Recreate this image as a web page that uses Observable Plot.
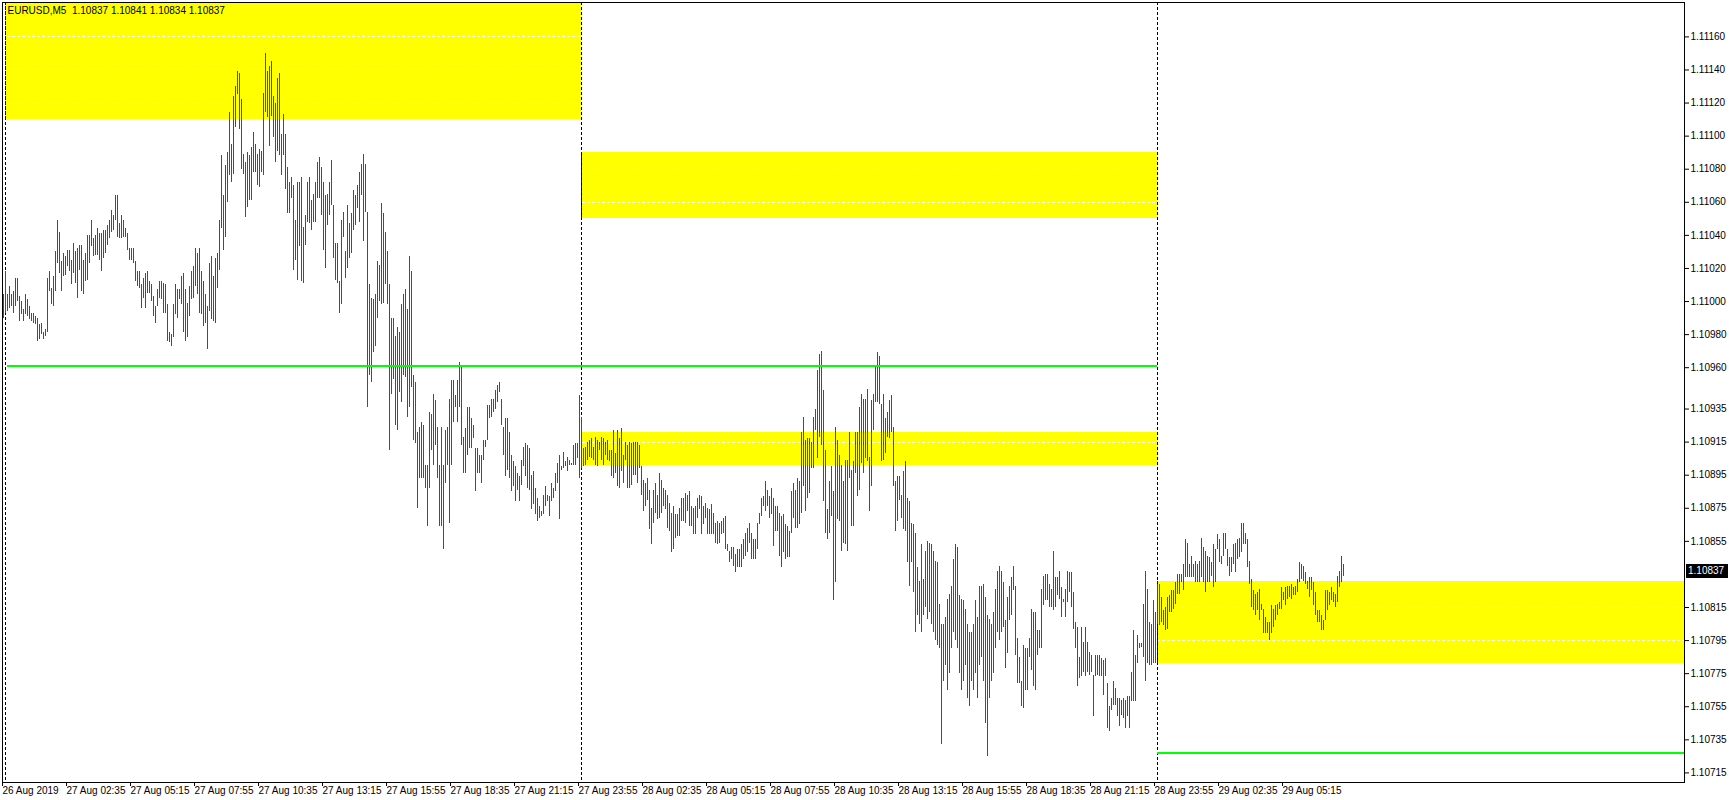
<!DOCTYPE html>
<html><head><meta charset="utf-8">
<script src="https://cdn.jsdelivr.net/npm/d3@7"></script>
<script src="https://cdn.jsdelivr.net/npm/@observablehq/plot@0.6"></script>
<style>body{margin:0;background:#fff;} #chart{width:1729px;height:800px;}</style>
</head><body><div id="chart"></div>
<script>
const symbolTitle = "EURUSD,M5  1.10837 1.10841 1.10834 1.10837";
const lastPrice = 1.10837;

// M5 bars, index 0 = 26 Aug 2019 23:55
const high = [
1.11004,1.11018,1.11004,1.11009,1.11004,1.11006,1.11014,1.11014,1.11003,1.11000,
1.10995,1.11004,1.11001,1.10997,1.10993,1.10993,1.10991,1.10990,1.10986,1.10987,
1.10981,1.10983,1.11014,1.11018,1.11008,1.11015,1.11030,1.11049,1.11042,1.11024,
1.11029,1.11027,1.11031,1.11031,1.11025,1.11035,1.11030,1.11032,1.11034,1.11034,
1.11025,1.11029,1.11040,1.11040,1.11049,1.11038,1.11040,1.11044,1.11041,1.11041,
1.11043,1.11043,1.11046,1.11049,1.11055,1.11052,1.11064,1.11064,1.11047,1.11052,
1.11049,1.11044,1.11041,1.11032,1.11032,1.11032,1.11024,1.11018,1.11018,1.11010,
1.11014,1.11017,1.11018,1.11012,1.11010,1.11003,1.10997,1.11007,1.11012,1.11012,
1.11011,1.11010,1.10998,1.10981,1.10980,1.10998,1.11010,1.11007,1.11007,1.11015,
1.11017,1.11007,1.10999,1.11009,1.11018,1.11021,1.11032,1.11029,1.11032,1.11018,
1.11012,1.11004,1.10997,1.11023,1.11027,1.11015,1.11026,1.11029,1.11049,1.11088,
1.11064,1.11082,1.11090,1.11114,1.11095,1.11124,1.11130,1.11139,1.11138,1.11122,
1.11089,1.11084,1.11090,1.11088,1.11093,1.11102,1.11095,1.11089,1.11092,1.11091,
1.11126,1.11150,1.11139,1.11142,1.11145,1.11124,1.11120,1.11135,1.11138,1.11101,
1.11113,1.11101,1.11081,1.11072,1.11075,1.11070,1.11049,1.11072,1.11072,1.11075,
1.11045,1.11052,1.11072,1.11075,1.11061,1.11065,1.11072,1.11084,1.11087,1.11081,
1.11072,1.11064,1.11065,1.11072,1.11085,1.11058,1.11035,1.11035,1.11012,1.11049,
1.11054,1.11030,1.11058,1.11047,1.11053,1.11067,1.11064,1.11070,1.11078,1.11083,
1.11089,1.11083,1.11054,1.11010,1.11002,1.11001,1.11004,1.11024,1.11022,1.11059,
1.11053,1.11042,1.11030,1.11010,1.10990,1.10990,1.10979,1.10984,1.10981,1.10998,
1.11004,1.11007,1.10995,1.11027,1.11018,1.10955,1.10951,1.10921,1.10924,1.10927,
1.10925,1.10901,1.10901,1.10933,1.10932,1.10944,1.10940,1.10924,1.10901,1.10924,
1.10901,1.10922,1.10924,1.10941,1.10952,1.10952,1.10943,1.10952,1.10963,1.10960,
1.10918,1.10923,1.10936,1.10936,1.10929,1.10925,1.10911,1.10911,1.10907,1.10907,
1.10916,1.10916,1.10937,1.10937,1.10941,1.10941,1.10946,1.10949,1.10951,1.10941,
1.10924,1.10929,1.10929,1.10921,1.10907,1.10903,1.10900,1.10896,1.10894,1.10904,
1.10912,1.10914,1.10913,1.10911,1.10895,1.10897,1.10887,1.10881,1.10876,1.10873,
1.10883,1.10888,1.10883,1.10882,1.10890,1.10887,1.10896,1.10902,1.10907,1.10900,
1.10909,1.10903,1.10906,1.10904,1.10902,1.10913,1.10914,1.10914,1.10943,1.10930,
1.10911,1.10912,1.10915,1.10916,1.10917,1.10912,1.10918,1.10916,1.10915,1.10918,
1.10917,1.10915,1.10916,1.10910,1.10910,1.10922,1.10908,1.10922,1.10917,1.10923,
1.10907,1.10915,1.10913,1.10915,1.10914,1.10915,1.10915,1.10915,1.10913,1.10900,
1.10892,1.10890,1.10893,1.10886,1.10875,1.10886,1.10890,1.10883,1.10896,1.10892,
1.10887,1.10886,1.10883,1.10878,1.10872,1.10876,1.10871,1.10871,1.10875,1.10881,
1.10881,1.10884,1.10883,1.10885,1.10876,1.10875,1.10876,1.10881,1.10883,1.10882,
1.10876,1.10878,1.10875,1.10874,1.10877,1.10872,1.10866,1.10867,1.10866,1.10867,
1.10869,1.10870,1.10853,1.10849,1.10851,1.10851,1.10847,1.10850,1.10850,1.10853,
1.10856,1.10860,1.10863,1.10866,1.10860,1.10856,1.10856,1.10866,1.10872,1.10881,
1.10882,1.10891,1.10886,1.10882,1.10887,1.10881,1.10876,1.10876,1.10872,1.10870,
1.10871,1.10865,1.10864,1.10861,1.10885,1.10890,1.10886,1.10893,1.10891,1.10921,
1.10930,1.10916,1.10917,1.10917,1.10915,1.10930,1.10935,1.10958,1.10968,1.10970,
1.10946,1.10910,1.10874,1.10891,1.10900,1.10885,1.10924,1.10916,1.10907,1.10901,
1.10891,1.10904,1.10904,1.10921,1.10898,1.10903,1.10921,1.10921,1.10936,1.10944,
1.10941,1.10941,1.10947,1.10906,1.10940,1.10944,1.10960,1.10969,1.10967,1.10938,
1.10944,1.10929,1.10933,1.10940,1.10943,1.10924,1.10891,1.10894,1.10894,1.10883,
1.10897,1.10903,1.10881,1.10879,1.10866,1.10865,1.10860,1.10839,1.10831,1.10853,
1.10832,1.10849,1.10855,1.10854,1.10853,1.10849,1.10843,1.10842,1.10817,1.10805,
1.10805,1.10809,1.10820,1.10823,1.10828,1.10844,1.10853,1.10851,1.10822,1.10820,
1.10819,1.10814,1.10805,1.10800,1.10800,1.10805,1.10819,1.10809,1.10828,1.10828,
1.10829,1.10821,1.10810,1.10808,1.10805,1.10812,1.10826,1.10837,1.10840,1.10837,
1.10830,1.10807,1.10821,1.10828,1.10833,1.10840,1.10828,1.10796,1.10785,1.10770,
1.10792,1.10790,1.10790,1.10796,1.10814,1.10812,1.10812,1.10801,1.10801,1.10826,
1.10834,1.10835,1.10835,1.10829,1.10826,1.10849,1.10833,1.10833,1.10837,1.10827,
1.10820,1.10826,1.10837,1.10836,1.10836,1.10824,1.10806,1.10803,1.10785,1.10803,
1.10794,1.10803,1.10794,1.10788,1.10786,1.10774,1.10786,1.10786,1.10786,1.10784,
1.10783,1.10784,1.10769,1.10755,1.10760,1.10770,1.10766,1.10760,1.10760,1.10759,
1.10760,1.10759,1.10761,1.10761,1.10776,1.10801,1.10786,1.10798,1.10793,1.10793,
1.10817,1.10837,1.10826,1.10806,1.10805,1.10819,1.10812,1.10829,1.10829,1.10821,
1.10813,1.10815,1.10821,1.10822,1.10825,1.10825,1.10830,1.10835,1.10835,1.10835,
1.10841,1.10856,1.10854,1.10841,1.10846,1.10841,1.10843,1.10841,1.10843,1.10857,
1.10851,1.10849,1.10846,1.10845,1.10842,1.10853,1.10850,1.10859,1.10856,1.10846,
1.10860,1.10860,1.10850,1.10845,1.10845,1.10853,1.10854,1.10856,1.10857,1.10866,
1.10866,1.10860,1.10856,1.10843,1.10832,1.10825,1.10823,1.10824,1.10826,1.10817,
1.10814,1.10809,1.10806,1.10806,1.10816,1.10814,1.10816,1.10817,1.10818,1.10827,
1.10824,1.10827,1.10828,1.10828,1.10829,1.10827,1.10828,1.10832,1.10842,1.10841,
1.10840,1.10836,1.10831,1.10833,1.10833,1.10830,1.10824,1.10813,1.10813,1.10810,
1.10807,1.10825,1.10825,1.10824,1.10827,1.10824,1.10823,1.10834,1.10837,1.10846,
1.10841
];
const low = [
1.10990,1.10993,1.10994,1.10996,1.10997,1.10993,1.10997,1.11000,1.10988,1.10992,
1.10988,1.10992,1.10991,1.10989,1.10988,1.10987,1.10986,1.10976,1.10977,1.10980,
1.10977,1.10979,1.10981,1.11006,1.10998,1.10997,1.11006,1.11023,1.11017,1.11006,
1.11015,1.11016,1.11021,1.11018,1.11010,1.11017,1.11011,1.11002,1.11019,1.11006,
1.11004,1.11012,1.11013,1.11023,1.11033,1.11027,1.11028,1.11028,1.11025,1.11018,
1.11026,1.11029,1.11034,1.11038,1.11042,1.11043,1.11049,1.11039,1.11038,1.11038,
1.11039,1.11039,1.11031,1.11025,1.11025,1.11023,1.11012,1.11009,1.11008,1.10996,
1.11002,1.10996,1.11005,1.11005,1.11000,1.10991,1.10987,1.10997,1.11002,1.11001,
1.10993,1.10993,1.10976,1.10975,1.10973,1.10978,1.10992,1.10990,1.11001,1.10998,
1.10981,1.10976,1.10978,1.10991,1.11001,1.11002,1.11009,1.11004,1.10993,1.10992,
1.10985,1.10987,1.10971,1.10994,1.10989,1.10988,1.10987,1.11008,1.11019,1.11044,
1.11031,1.11039,1.11060,1.11076,1.11072,1.11077,1.11105,1.11125,1.11104,1.11080,
1.11077,1.11051,1.11057,1.11061,1.11061,1.11078,1.11078,1.11070,1.11069,1.11078,
1.11076,1.11114,1.11111,1.11094,1.11112,1.11099,1.11084,1.11091,1.11088,1.11076,
1.11088,1.11068,1.11053,1.11053,1.11062,1.11019,1.11025,1.11013,1.11033,1.11012,
1.11011,1.11034,1.11048,1.11047,1.11043,1.11048,1.11048,1.11062,1.11062,1.11052,
1.11031,1.11020,1.11046,1.11052,1.11058,1.11026,1.11013,1.11011,1.10993,1.10998,
1.11039,1.11014,1.11020,1.11026,1.11029,1.11043,1.11046,1.11056,1.11048,1.11064,
1.11036,1.11054,1.10936,1.10955,1.10951,1.10969,1.10973,1.10990,1.11000,1.10998,
1.10999,1.11010,1.10998,1.10910,1.10944,1.10953,1.10925,1.10922,1.10945,1.10939,
1.10955,1.10954,1.10930,1.10936,1.10948,1.10916,1.10914,1.10875,1.10893,1.10893,
1.10893,1.10887,1.10864,1.10887,1.10910,1.10901,1.10913,1.10893,1.10864,1.10864,
1.10850,1.10890,1.10901,1.10866,1.10901,1.10927,1.10936,1.10927,1.10936,1.10913,
1.10896,1.10896,1.10907,1.10911,1.10911,1.10917,1.10885,1.10896,1.10896,1.10890,
1.10904,1.10912,1.10916,1.10929,1.10930,1.10933,1.10935,1.10939,1.10945,1.10925,
1.10907,1.10894,1.10898,1.10893,1.10885,1.10888,1.10879,1.10886,1.10879,1.10889,
1.10900,1.10894,1.10887,1.10886,1.10874,1.10877,1.10871,1.10867,1.10869,1.10870,
1.10871,1.10876,1.10879,1.10870,1.10879,1.10881,1.10885,1.10890,1.10868,1.10898,
1.10899,1.10900,1.10897,1.10901,1.10901,1.10901,1.10901,1.10905,1.10893,1.10899,
1.10900,1.10901,1.10904,1.10906,1.10905,1.10904,1.10901,1.10900,1.10910,1.10904,
1.10901,1.10907,1.10904,1.10903,1.10894,1.10893,1.10896,1.10888,1.10887,1.10897,
1.10890,1.10904,1.10887,1.10887,1.10889,1.10895,1.10895,1.10890,1.10899,1.10883,
1.10873,1.10876,1.10880,1.10862,1.10853,1.10866,1.10872,1.10868,1.10869,1.10872,
1.10876,1.10874,1.10863,1.10861,1.10848,1.10850,1.10857,1.10858,1.10858,1.10867,
1.10867,1.10866,1.10873,1.10864,1.10864,1.10859,1.10859,1.10869,1.10874,1.10859,
1.10865,1.10869,1.10859,1.10859,1.10859,1.10859,1.10854,1.10853,1.10854,1.10859,
1.10860,1.10850,1.10849,1.10842,1.10844,1.10840,1.10836,1.10839,1.10839,1.10839,
1.10844,1.10846,1.10848,1.10854,1.10844,1.10844,1.10844,1.10850,1.10865,1.10870,
1.10876,1.10873,1.10876,1.10869,1.10871,1.10852,1.10861,1.10861,1.10846,1.10839,
1.10848,1.10844,1.10845,1.10845,1.10860,1.10869,1.10863,1.10863,1.10865,1.10872,
1.10888,1.10873,1.10881,1.10884,1.10899,1.10899,1.10922,1.10905,1.10918,1.10913,
1.10879,1.10860,1.10856,1.10860,1.10870,1.10819,1.10830,1.10868,1.10867,1.10849,
1.10854,1.10853,1.10849,1.10893,1.10864,1.10864,1.10896,1.10882,1.10886,1.10902,
1.10896,1.10905,1.10903,1.10873,1.10888,1.10922,1.10939,1.10939,1.10938,1.10903,
1.10904,1.10908,1.10918,1.10917,1.10921,1.10888,1.10861,1.10867,1.10880,1.10869,
1.10862,1.10861,1.10842,1.10828,1.10842,1.10824,1.10800,1.10810,1.10805,1.10800,
1.10810,1.10815,1.10808,1.10812,1.10805,1.10800,1.10795,1.10792,1.10790,1.10732,
1.10770,1.10780,1.10765,1.10775,1.10790,1.10800,1.10795,1.10790,1.10775,1.10765,
1.10770,1.10780,1.10760,1.10755,1.10770,1.10765,1.10775,1.10760,1.10780,1.10785,
1.10770,1.10745,1.10725,1.10760,1.10770,1.10775,1.10790,1.10800,1.10795,1.10800,
1.10803,1.10778,1.10787,1.10807,1.10810,1.10825,1.10786,1.10769,1.10769,1.10755,
1.10754,1.10765,1.10765,1.10785,1.10777,1.10767,1.10765,1.10786,1.10790,1.10790,
1.10816,1.10819,1.10819,1.10815,1.10815,1.10813,1.10815,1.10822,1.10820,1.10809,
1.10818,1.10809,1.10818,1.10824,1.10815,1.10802,1.10790,1.10767,1.10772,1.10773,
1.10776,1.10773,1.10776,1.10774,1.10776,1.10749,1.10773,1.10774,1.10773,1.10773,
1.10762,1.10773,1.10742,1.10740,1.10753,1.10756,1.10756,1.10749,1.10743,1.10750,
1.10748,1.10742,1.10749,1.10742,1.10758,1.10758,1.10758,1.10781,1.10790,1.10791,
1.10785,1.10770,1.10781,1.10780,1.10780,1.10781,1.10781,1.10805,1.10804,1.10806,
1.10804,1.10801,1.10802,1.10812,1.10812,1.10814,1.10817,1.10823,1.10823,1.10830,
1.10825,1.10833,1.10833,1.10833,1.10833,1.10833,1.10830,1.10830,1.10830,1.10833,
1.10830,1.10824,1.10830,1.10830,1.10834,1.10827,1.10830,1.10850,1.10842,1.10841,
1.10846,1.10850,1.10840,1.10834,1.10836,1.10841,1.10836,1.10844,1.10845,1.10848,
1.10853,1.10853,1.10839,1.10829,1.10815,1.10813,1.10810,1.10813,1.10807,1.10813,
1.10799,1.10799,1.10799,1.10795,1.10799,1.10803,1.10807,1.10810,1.10814,1.10814,
1.10819,1.10816,1.10820,1.10821,1.10820,1.10822,1.10822,1.10824,1.10830,1.10832,
1.10831,1.10829,1.10826,1.10821,1.10825,1.10816,1.10810,1.10806,1.10806,1.10801,
1.10801,1.10807,1.10813,1.10816,1.10819,1.10818,1.10815,1.10818,1.10827,1.10830,
1.10834
];

// price axis labels (right)
const yTicks = [1.11160,1.11140,1.11120,1.11100,1.11080,1.11060,1.11040,1.11020,1.11000,1.10980,1.10960,
  1.10935,1.10915,1.10895,1.10875,1.10855,1.10815,1.10795,1.10775,1.10755,1.10735,1.10715];

// time axis labels (bar index -> label)
const xTickBars = [0,32,64,96,128,160,192,224,256,288,320,352,384,416,448,480,512,544,576,608,640];
const xTickLabels = ["26 Aug 2019","27 Aug 02:35","27 Aug 05:15","27 Aug 07:55","27 Aug 10:35","27 Aug 13:15",
  "27 Aug 15:55","27 Aug 18:35","27 Aug 21:15","27 Aug 23:55","28 Aug 02:35","28 Aug 05:15","28 Aug 07:55",
  "28 Aug 10:35","28 Aug 13:15","28 Aug 15:55","28 Aug 18:35","28 Aug 21:15","28 Aug 23:55","29 Aug 02:35","29 Aug 05:15"];

// day separators (bar index of 00:00)
const separatorBars = [1, 289, 577];

// yellow zones
const zoneStart  = [1, 289, 289, 577];
const zoneEnd    = [289, 577, 577, 841];
const zoneTop    = [1.11185, 1.11090, 1.10921, 1.10831];
const zoneBottom = [1.11110, 1.11050, 1.10901, 1.10781];

// green horizontal levels
const levelPrice = [1.10961, 1.10727];
const levelStart = [2, 577];
const levelEnd   = [577, 841];

const bars = high.map((h, i) => ({i, high: h, low: low[i]}));
const zones = zoneStart.map((s, k) => ({start: s, end: zoneEnd[k], top: zoneTop[k], bottom: zoneBottom[k]}));
const levels = levelPrice.map((p, k) => ({price: p, start: levelStart[k], end: levelEnd[k]}));

const font = "Liberation Sans, Arial, sans-serif";
const crisp = "crispEdges";

const plot = Plot.plot({
  width: 1729, height: 800,
  marginLeft: 2, marginRight: 45, marginTop: 2, marginBottom: 18,
  x: {domain: [-0.5, 840.5]},
  y: {domain: [1.107092, 1.111808]},
  style: {fontFamily: font, fontSize: "10px", background: "white", color: "black"},
  marks: [
    Plot.rect(zones, {x1: "start", x2: "end", y1: "bottom", y2: "top", fill: "#ffff00", clip: true, shapeRendering: crisp}),
    Plot.ruleY(yTicks, {stroke: "white", strokeDasharray: "3,2", shapeRendering: crisp}),
    Plot.ruleX(separatorBars, {stroke: "black", strokeDasharray: "3,2", shapeRendering: crisp}),
    Plot.ruleX(zones, {x: "start", y1: "bottom", y2: "top", stroke: "#0000ff", strokeDasharray: "3,2", clip: true, shapeRendering: crisp}),
    Plot.ruleX(bars, {x: "i", y1: "low", y2: "high", stroke: "#ff0000", strokeWidth: 1, shapeRendering: crisp}),
    Plot.ruleY(levels, {y: "price", x1: "start", x2: "end", stroke: "#00ff00", strokeWidth: 2, clip: true, shapeRendering: crisp}),
    Plot.frame({stroke: "black", shapeRendering: crisp}),
    Plot.axisY(yTicks, {anchor: "right", tickSize: 4, tickPadding: 2, tickFormat: d => d.toFixed(5), fontSize: 10}),
    Plot.axisX(xTickBars, {anchor: "bottom", tickSize: 4, tickPadding: 0, textAnchor: "start", dx: -1,
      tickFormat: d => xTickLabels[xTickBars.indexOf(d)], fontSize: 10}),
    Plot.text([symbolTitle], {text: d => d, frameAnchor: "top-left", dx: 5, dy: 4, textAnchor: "start",
      lineAnchor: "top", fontSize: 10, fill: "black"})
  ]
});

// current price marker on the price axis
const ys = plot.scale("y"), xs = plot.scale("x");
const yy = ys.apply(lastPrice);
const xr = xs.range[1];
const svg = d3.select(plot);
svg.append("rect").attr("x", xr + 2).attr("y", Math.round(yy) - 7).attr("width", 42).attr("height", 14).attr("fill", "black");
svg.append("text").attr("x", xr + 4).attr("y", yy).attr("dy", "0.35em").attr("fill", "white")
  .attr("text-anchor", "start").attr("font-family", font).attr("font-size", 10).text(lastPrice.toFixed(5));

document.getElementById("chart").appendChild(plot);
</script>
</body></html>
